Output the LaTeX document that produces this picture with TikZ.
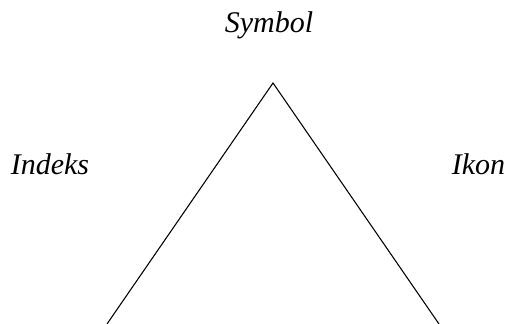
\documentclass[tikz,border=0pt]{standalone}
\usepackage{fontspec}
\setmainfont{Liberation Serif}
\usepackage{tikz}

\begin{document}
\begin{tikzpicture}[x=0.75pt, y=-0.75pt,
  lbl/.style={inner sep=0pt, anchor=base, font=\fontsize{22.5}{27}\selectfont\itshape},
  edge/.style={line width=0.8pt}]
\useasboundingbox (0,0) rectangle (507,324);
\node[lbl] (symbol) at (269,33) {Symbol};
\node[lbl] (indeks) at (50,175) {Indeks};
\node[lbl] (ikon) at (478.5,175) {Ikon};
\coordinate (top) at (273,83);
\coordinate (bl) at (107,324);
\coordinate (br) at (439,324);
\draw[edge] (bl) -- (top) -- (br);
\end{tikzpicture}
\end{document}
